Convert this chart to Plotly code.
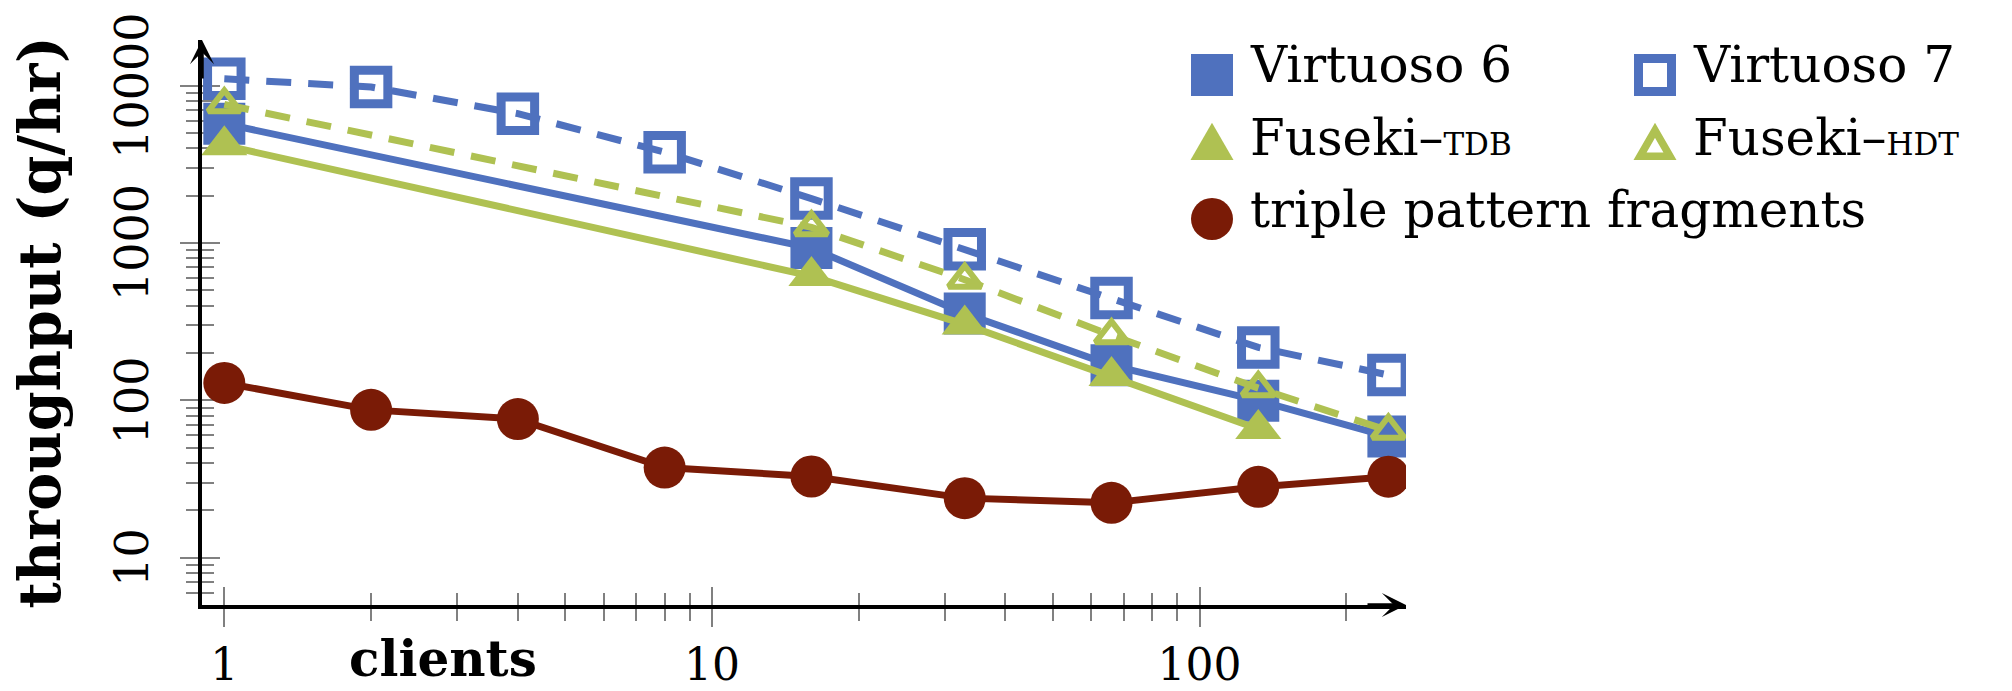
import math
import plotly.graph_objects as go

# ---------------- data ----------------
clients_all = [1, 2, 4, 8, 16, 33, 66, 132, 244]
clients_six = [1, 16, 33, 66, 132, 244]
clients_tdb = [1, 16, 33, 66, 132]

virtuoso6 = [5740, 929, 357, 167, 99.5, 58.9]
virtuoso7 = [11070, 9820, 6650, 3785, 1918, 914, 447, 217, 145]
fuseki_tdb = [4180, 617, 304, 143, 65.8]
fuseki_hdt = [7620, 1259, 585, 259, 119.6, 64.1]
tpf = [129, 87, 76, 37.4, 32.8, 23.9, 22.3, 28.2, 32.7]

x_tick_vals = [1, 10, 100]
x_tick_text = ["1", "10", "100"]
x_minor_vals = [2, 3, 4, 5, 6, 7, 8, 9, 20, 30, 40, 50, 60, 70, 80, 90, 200]
y_tick_vals = [10, 100, 1000, 10000]
y_tick_text = ["10", "100", "1000", "10000"]
y_minor_vals = [6, 7, 8, 9, 20, 30, 40, 50, 60, 70, 80, 90,
                200, 300, 400, 500, 600, 700, 800, 900,
                2000, 3000, 4000, 5000, 6000, 7000, 8000, 9000, 20000]

legend_names = ["Virtuoso 6", "Virtuoso 7",
                "Fuseki–<span style='font-size:31px'>TDB</span>",
                "Fuseki–<span style='font-size:31px'>HDT</span>",
                "triple pattern fragments"]

# ---------------- styles ----------------
BLUE = "#4F71BE"
GREEN = "#AFC152"
RED = "#7A1B06"
TICK = "#808080"
FONT = "DejaVu Serif"

W, H = 2012, 691
ML, MR, MT, MB = 202, 606, 40, 86
PW, PH = W - ML - MR, H - MT - MB
XR = [math.log10(0.9), 2.4235]
YR = [math.log10(5), 4.291]


def px(p):
    return (p - ML) / PW


def py(p):
    return (H - MB - p) / PH


fig = go.Figure()

fig.add_trace(go.Scatter(
    x=clients_six, y=virtuoso6, name="Virtuoso 6", mode="lines+markers",
    line=dict(color=BLUE, width=7),
    marker=dict(symbol="square", size=42, color=BLUE, line=dict(width=0))))
fig.add_trace(go.Scatter(
    x=clients_all, y=virtuoso7, name="Virtuoso 7", mode="lines+markers",
    line=dict(color=BLUE, width=7, dash="25px,17px"),
    marker=dict(symbol="square-open", size=33.5, color=BLUE,
                line=dict(width=9, color=BLUE))))
fig.add_trace(go.Scatter(
    x=clients_tdb, y=fuseki_tdb, name="Fuseki-TDB", mode="lines+markers",
    line=dict(color=GREEN, width=7),
    marker=dict(symbol="triangle-up", size=40, color=GREEN, line=dict(width=0))))
fig.add_trace(go.Scatter(
    x=clients_six, y=fuseki_hdt, name="Fuseki-HDT", mode="lines+markers",
    line=dict(color=GREEN, width=7, dash="25px,17px"),
    marker=dict(symbol="triangle-up-open", size=28, color=GREEN,
                line=dict(width=6, color=GREEN))))
fig.add_trace(go.Scatter(
    x=clients_all, y=tpf, name="triple pattern fragments", mode="lines+markers",
    line=dict(color=RED, width=7),
    marker=dict(symbol="circle", size=42, color=RED, line=dict(width=0))))

# empty trace carrying the overlay axes (ticks on the inner side)
fig.add_trace(go.Scatter(x=[], y=[], xaxis="x2", yaxis="y2",
                         showlegend=False, hoverinfo="skip"))

xtickfont = dict(family=FONT, size=44, color="black")
common = dict(type="log", showgrid=False, zeroline=False, automargin=False)

fig.update_layout(
    template="none",
    width=W, height=H,
    margin=dict(l=ML, r=MR, t=MT, b=MB, pad=0, autoexpand=False),
    paper_bgcolor="white", plot_bgcolor="white",
    showlegend=False,
    font=dict(family=FONT, color="black"),
    xaxis=dict(**common, range=XR, tickmode="array", tickvals=x_tick_vals,
               ticktext=x_tick_text, ticks="outside", ticklen=18, tickwidth=2,
               tickcolor=TICK, showline=True, linecolor="black", linewidth=3.5,
               tickfont=xtickfont, ticklabelstandoff=0, layer="below traces",
               minor=dict(tickmode="array", tickvals=x_minor_vals, ticks="outside",
                          ticklen=12, tickwidth=2, tickcolor=TICK)),
    yaxis=dict(**common, range=YR, tickmode="array", tickvals=y_tick_vals,
               ticks="outside", ticklen=18, tickwidth=2, tickcolor=TICK,
               showticklabels=False, showline=True, linecolor="black",
               linewidth=3.5, layer="below traces",
               minor=dict(tickmode="array", tickvals=y_minor_vals, ticks="outside",
                          ticklen=12, tickwidth=2, tickcolor=TICK)),
    xaxis2=dict(**common, range=XR, overlaying="x", anchor="y2", side="bottom",
                tickmode="array", tickvals=x_tick_vals, ticks="inside", ticklen=18,
                tickwidth=2, tickcolor=TICK, showticklabels=False, showline=False,
                layer="below traces",
                minor=dict(tickmode="array", tickvals=x_minor_vals, ticks="inside",
                           ticklen=12, tickwidth=2, tickcolor=TICK)),
    yaxis2=dict(**common, range=YR, overlaying="y", anchor="x2", side="left",
                tickmode="array", tickvals=y_tick_vals, ticks="inside", ticklen=18,
                tickwidth=2, tickcolor=TICK, showticklabels=False, showline=False,
                layer="below traces",
                minor=dict(tickmode="array", tickvals=y_minor_vals, ticks="inside",
                           ticklen=12, tickwidth=2, tickcolor=TICK)),
)

annotations = [
    # axis arrows
    dict(x=1, y=0, xref="paper", yref="paper", ax=-40, ay=0, text="",
         showarrow=True, arrowhead=3, arrowsize=1.15, arrowwidth=3.5,
         arrowcolor="black"),
    dict(x=0, y=1, xref="paper", yref="paper", ax=0, ay=40, text="",
         showarrow=True, arrowhead=3, arrowsize=1.15, arrowwidth=3.5,
         arrowcolor="black"),
    # axis titles
    dict(x=px(39), y=0.5, xref="paper", yref="paper", text="<b>throughput (q/hr)</b>",
         textangle=-90, showarrow=False, xanchor="center", yanchor="middle",
         font=dict(family=FONT, size=57, color="black")),
    dict(x=px(443), y=py(658), xref="paper", yref="paper", text="<b>clients</b>",
         showarrow=False, xanchor="center", yanchor="middle",
         font=dict(family=FONT, size=50, color="black")),
]

# y tick labels, rotated, placed at their values on the log axis
for val, txt in zip(y_tick_vals, y_tick_text):
    annotations.append(dict(x=px(132), y=math.log10(val), xref="paper", yref="y",
                            text=txt, textangle=-90, showarrow=False,
                            xanchor="center", yanchor="middle",
                            font=dict(family=FONT, size=46, color="black")))

# legend (two columns, three rows)
legend_font = dict(family=FONT, size=50, color="black")
text_pos = [(1248, 65), (1691, 65), (1248, 138), (1691, 138), (1248, 210)]
for name, (tx, ty) in zip(legend_names, text_pos):
    annotations.append(dict(x=px(tx), y=py(ty), xref="paper", yref="paper",
                            text=name, showarrow=False, xanchor="left",
                            yanchor="middle", font=legend_font))

shapes = [
    # Virtuoso 6: filled square
    dict(type="rect", xref="paper", yref="paper", x0=px(1191), x1=px(1233),
         y0=py(96), y1=py(54), fillcolor=BLUE, line=dict(width=0)),
    # Virtuoso 7: open square
    dict(type="rect", xref="paper", yref="paper", x0=px(1638.5), x1=px(1671.5),
         y0=py(91.5), y1=py(58.5), fillcolor="white", line=dict(width=9, color=BLUE)),
    # Fuseki-TDB: filled triangle
    dict(type="path", xref="paper", yref="paper",
         path="M %f %f L %f %f L %f %f Z" % (px(1190.5), py(160), px(1233.5), py(160),
                                             px(1212), py(122.8)),
         fillcolor=GREEN, line=dict(width=0)),
    # Fuseki-HDT: open triangle
    dict(type="path", xref="paper", yref="paper",
         path="M %f %f L %f %f L %f %f Z" % (px(1640), py(156.3), px(1670), py(156.3),
                                             px(1655), py(130.3)),
         fillcolor="white", line=dict(width=7.5, color=GREEN)),
    # TPF: circle
    dict(type="circle", xref="paper", yref="paper", x0=px(1191), x1=px(1233),
         y0=py(240), y1=py(198), fillcolor=RED, line=dict(width=0)),
]

fig.update_layout(annotations=annotations, shapes=shapes)

fig.write_html("out.html", config={"displayModeBar": False},
               post_script="document.body.style.margin='0';")
